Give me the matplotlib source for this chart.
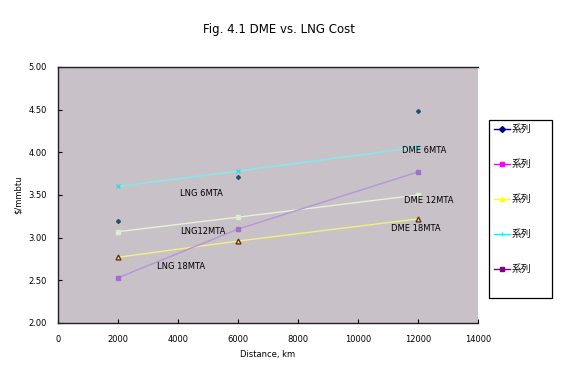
import matplotlib
matplotlib.use("Agg")
import matplotlib.pyplot as plt
from matplotlib.lines import Line2D
from matplotlib.patches import Rectangle

distance = [2000, 6000, 12000]
series1 = [3.19, 3.71, 4.48]   # navy diamonds
series2 = [3.07, 3.24, 3.50]   # pale line
series3 = [2.77, 2.96, 3.22]   # yellow triangles
series4 = [3.60, 3.78, 4.06]   # cyan
series5 = [2.53, 3.10, 3.77]   # purple
legend_labels = ["系列", "系列", "系列", "系列", "系列"]
legend_colors = ['#000080', '#ff00ff', '#ffff00', '#00ffff', '#800080']
legend_markers = ['D', 's', '^', '+', 's']
annot_text = ["LNG 6MTA", "LNG12MTA", "LNG 18MTA", "DME 6MTA", "DME 12MTA", "DME 18MTA"]
annot_x = [4767, 4833, 4100, 12200, 12367, 11933]
annot_y = [3.52, 3.07, 2.66, 4.02, 3.44, 3.11]

plt.rcParams['font.family'] = ['DejaVu Sans', 'Noto Sans CJK JP']

W, H = 585, 377
fig = plt.figure(figsize=(W/100, H/100), dpi=100)
ax = fig.add_axes([58/W, 1-323/H, 420/W, 256/H])
ax.set_facecolor('#c8c1c8')

ax.plot(distance, series4, color='#86e6ee', lw=1.2, marker='x', ms=3, mec='#40d8e8')
ax.plot(distance, series2, color='#e6f2d6', lw=1.0, marker='s', ms=3, mfc='#d8f0d0', mec='#d8f0d0')
ax.plot(distance, series3, color='#f4f07c', lw=1.0, marker='^', ms=3.5, mfc='#f8f088', mec='#603020')
ax.plot(distance, series5, color='#b894d8', lw=1.0, marker='s', ms=2.5, mfc='#a070d0', mec='#a070d0')
ax.plot(distance, series1, ls='none', marker='D', ms=2, color='#24506a')

for t, x, y in zip(annot_text, annot_x, annot_y):
    ax.text(x, y, t, fontsize=6, ha='center', va='center', color='black')

ax.set_xlim(0, 14000)
ax.set_ylim(2.0, 5.0)
ax.set_xticks(range(0, 14001, 2000))
ax.set_yticks([2.0, 2.5, 3.0, 3.5, 4.0, 4.5, 5.0])
ax.set_yticklabels([f"{v:.2f}" for v in ax.get_yticks()])
ax.tick_params(labelsize=6, length=3, direction='in', width=0.8, pad=8)
ax.tick_params(axis='x', pad=9)
for s in ax.spines.values():
    s.set_color('#202020')
    s.set_linewidth(1)
ax.spines['right'].set_visible(False)
ax.set_xlabel("Distance, km", fontsize=6, labelpad=4)
ax.set_ylabel("$/mmbtu", fontsize=6, labelpad=4)

fig.text(279/W, 1-29/H, "Fig. 4.1 DME vs. LNG Cost", fontsize=8.5, ha='center', va='center')

# legend box drawn by hand to match the reference layout
fig.add_artist(Rectangle((489/W, 1-298/H), 63/W, 178/H, transform=fig.transFigure,
                         facecolor='white', edgecolor='black', lw=0.9))
for i, (lab, c, m) in enumerate(zip(legend_labels, legend_colors, legend_markers)):
    yy = 1 - (129 + 35*i)/H
    fig.add_artist(Line2D([494/W, 510/W], [yy, yy], color=c, lw=1,
                          transform=fig.transFigure))
    fig.add_artist(Line2D([502/W], [yy], color=c, marker=m, ms=3,
                          transform=fig.transFigure))
    fig.text(512/W, yy, lab, fontsize=7, va='center', ha='left',
             family=['Noto Sans CJK JP', 'DejaVu Sans'])

fig.savefig("out.png", dpi=100)
